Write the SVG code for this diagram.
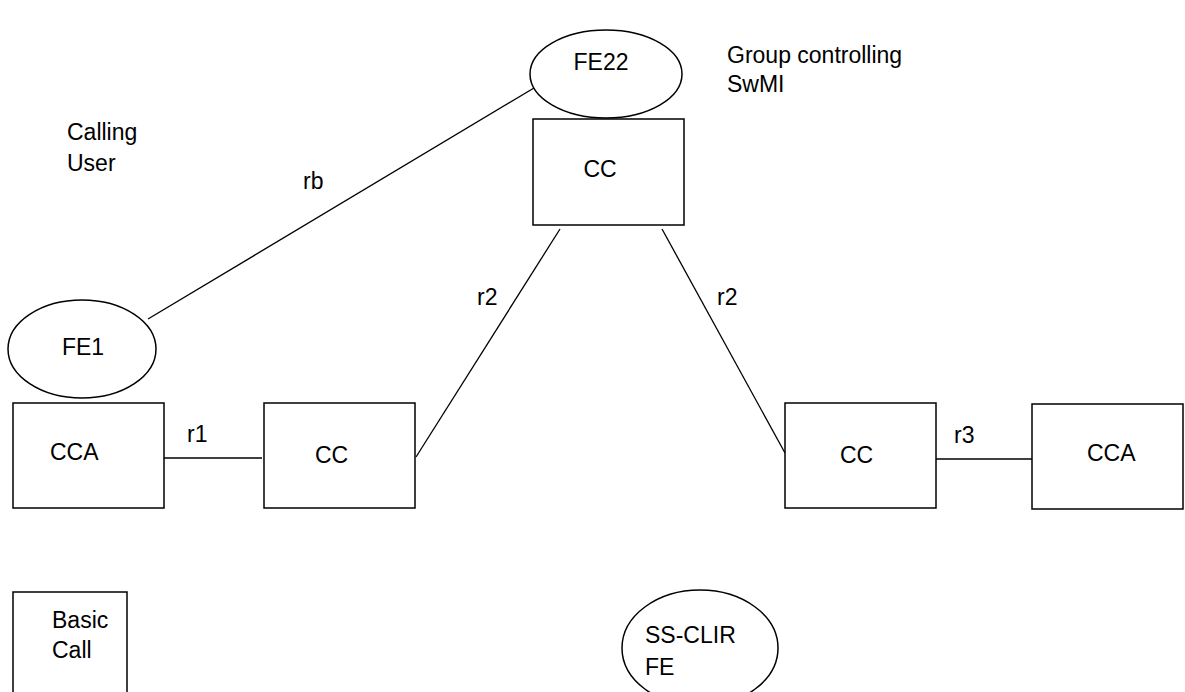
<svg xmlns="http://www.w3.org/2000/svg" width="1185" height="692" viewBox="0 0 1185 692">
<style>
.s{fill:#fff;stroke:#000;stroke-width:1.5}
.c{stroke:#000;stroke-width:1.3;fill:none}
text{font-family:"Liberation Sans",Arial,sans-serif;font-size:23px;fill:#000}
.m{text-anchor:middle}
</style>
<rect width="1185" height="692" fill="#fff"/>
<g id="connectors">
<line class="c" x1="148" y1="319" x2="534" y2="88"/>
<line class="c" x1="164" y1="458" x2="262" y2="458"/>
<line class="c" x1="416" y1="457" x2="560" y2="229"/>
<line class="c" x1="662" y1="229" x2="785" y2="453"/>
<line class="c" x1="936" y1="459" x2="1032" y2="459"/>
<text x="303" y="189">rb</text>
<text x="187" y="442">r1</text>
<text x="477" y="305">r2</text>
<text x="717" y="305">r2</text>
<text x="954" y="443">r3</text>
</g>
<g id="fe22"><ellipse class="s" cx="606" cy="74" rx="76" ry="44"/><text class="m" x="601" y="70">FE22</text></g>
<g id="cc-top"><rect class="s" x="533" y="119" width="151" height="106"/><text class="m" x="600" y="177">CC</text></g>
<g id="fe1"><ellipse class="s" cx="82" cy="349" rx="74" ry="49"/><text class="m" x="83" y="355">FE1</text></g>
<g id="cca-left"><rect class="s" x="13" y="403" width="151" height="105"/><text x="50" y="460">CCA</text></g>
<g id="cc-left"><rect class="s" x="264" y="403" width="151" height="105"/><text x="315" y="463">CC</text></g>
<g id="cc-right"><rect class="s" x="785" y="403" width="151" height="105"/><text x="840" y="463">CC</text></g>
<g id="cca-right"><rect class="s" x="1032" y="404" width="151" height="105"/><text x="1087" y="461">CCA</text></g>
<g id="basic-call"><rect class="s" x="13" y="592" width="114" height="110"/><text x="52" y="628">Basic</text><text x="52" y="658">Call</text></g>
<g id="ss-clir"><ellipse class="s" cx="700" cy="648" rx="78" ry="58"/><text x="645" y="643">SS-CLIR</text><text x="645" y="675">FE</text></g>
<g id="labels">
<text x="67" y="140">Calling</text><text x="67" y="171">User</text>
<text x="727" y="63">Group controlling</text><text x="727" y="92">SwMI</text>
</g>
</svg>
